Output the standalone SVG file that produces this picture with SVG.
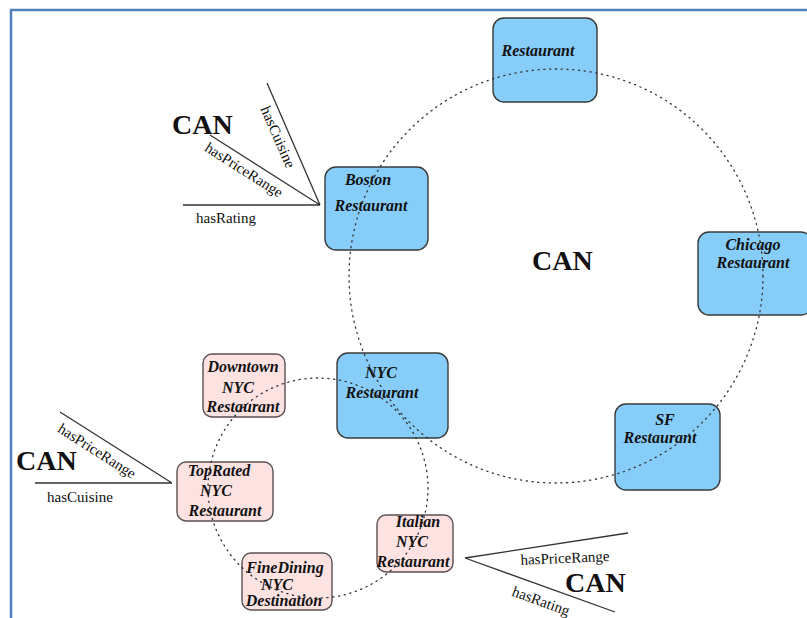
<svg xmlns="http://www.w3.org/2000/svg" width="807" height="618" viewBox="0 0 807 618">
  <style>
    .frame { stroke: #4f81bd; stroke-width: 2.5; fill: none; }
    .blue { fill: #87cdfa; stroke: #3a3a3a; stroke-width: 1.4; }
    .pink { fill: #fde2e2; stroke: #5a5050; stroke-width: 1.4; }
    .node-text { font-family: "Liberation Serif", "Times New Roman", serif; font-size: 16px; font-weight: bold; font-style: italic; fill: #111; text-anchor: middle; }
    .can { font-family: "Liberation Serif", "Times New Roman", serif; font-size: 28px; font-weight: bold; fill: #111; }
    .rel { font-family: "Liberation Serif", "Times New Roman", serif; font-size: 15px; fill: #111; text-anchor: middle; }
    .edge { stroke: #333; stroke-width: 1.3; fill: none; }
    .ring { stroke: #333; stroke-width: 1.3; fill: none; stroke-dasharray: 1.2 4.6; stroke-linecap: round; }
  </style>

  <!-- page frame -->
  <path class="frame" d="M11 618 V10 H807"/>

  <!-- restaurant nodes -->
  <g id="restaurant">
    <rect class="blue" x="493" y="18" width="104" height="84" rx="11"/>
    <text class="node-text" x="538" y="56">Restaurant</text>
  </g>
  <g id="boston-restaurant">
    <rect class="blue" x="325" y="167" width="103" height="83" rx="11"/>
    <text class="node-text" x="368" y="185">Boston</text>
    <text class="node-text" x="371" y="211">Restaurant</text>
  </g>
  <g id="chicago-restaurant">
    <rect class="blue" x="698" y="232" width="114" height="83" rx="11"/>
    <text class="node-text" x="753" y="250">Chicago</text>
    <text class="node-text" x="753" y="268">Restaurant</text>
  </g>
  <g id="nyc-restaurant">
    <rect class="blue" x="337" y="353" width="111" height="85" rx="11"/>
    <text class="node-text" x="381" y="378">NYC</text>
    <text class="node-text" x="382" y="398">Restaurant</text>
  </g>
  <g id="sf-restaurant">
    <rect class="blue" x="615" y="404" width="105" height="86" rx="11"/>
    <text class="node-text" x="665" y="425">SF</text>
    <text class="node-text" x="660" y="443">Restaurant</text>
  </g>

  <!-- NYC sub-category nodes -->
  <g id="downtown-nyc-restaurant">
    <rect class="pink" x="203" y="354" width="82" height="63" rx="9"/>
    <text class="node-text" x="243" y="372">Downtown</text>
    <text class="node-text" x="238" y="393">NYC</text>
    <text class="node-text" x="243" y="412">Restaurant</text>
  </g>
  <g id="toprated-nyc-restaurant">
    <rect class="pink" x="177" y="462" width="96" height="59" rx="9"/>
    <text class="node-text" x="219" y="476">TopRated</text>
    <text class="node-text" x="216" y="496">NYC</text>
    <text class="node-text" x="225" y="516">Restaurant</text>
  </g>
  <g id="finedining-nyc-destination">
    <rect class="pink" x="242" y="553" width="90" height="57" rx="9"/>
    <text class="node-text" x="285" y="573">FineDining</text>
    <text class="node-text" x="277" y="590">NYC</text>
    <text class="node-text" x="284" y="606">Destination</text>
  </g>
  <g id="italian-nyc-restaurant">
    <rect class="pink" x="377" y="515" width="76" height="57" rx="9"/>
    <text class="node-text" x="418" y="527">Italian</text>
    <text class="node-text" x="412" y="547">NYC</text>
    <text class="node-text" x="413" y="567">Restaurant</text>
  </g>

  <!-- CAN labels -->
  <g id="can-labels">
    <text class="can" x="172" y="134">CAN</text>
    <text class="can" x="532" y="270">CAN</text>
    <text class="can" x="16" y="470">CAN</text>
    <text class="can" x="565" y="592">CAN</text>
  </g>

  <!-- connectors: property fans and dotted membership rings -->
  <g id="connectors">
    <circle class="ring" cx="556" cy="276" r="207"/>
    <circle class="ring" cx="318" cy="488" r="110"/>

    <path class="edge" d="M267 83 L320 205 M210 135 L320 205 M183 205 L320 205"/>
    <path class="edge" d="M60 412 L172 483 M35 483 L172 483"/>
    <path class="edge" d="M628 533 L465 558 L615 612"/>

    <text class="rel" transform="translate(278 137) rotate(66.5)" y="5">hasCuisine</text>
    <text class="rel" transform="translate(244 170) rotate(32.5)" y="5">hasPriceRange</text>
    <text class="rel" x="226" y="223">hasRating</text>

    <text class="rel" transform="translate(97 451) rotate(32.4)" y="5">hasPriceRange</text>
    <text class="rel" x="80" y="502">hasCuisine</text>

    <text class="rel" transform="translate(565 558) rotate(-2.5)" y="5">hasPriceRange</text>
    <text class="rel" transform="translate(541 601) rotate(20)" y="5">hasRating</text>
  </g>
</svg>
